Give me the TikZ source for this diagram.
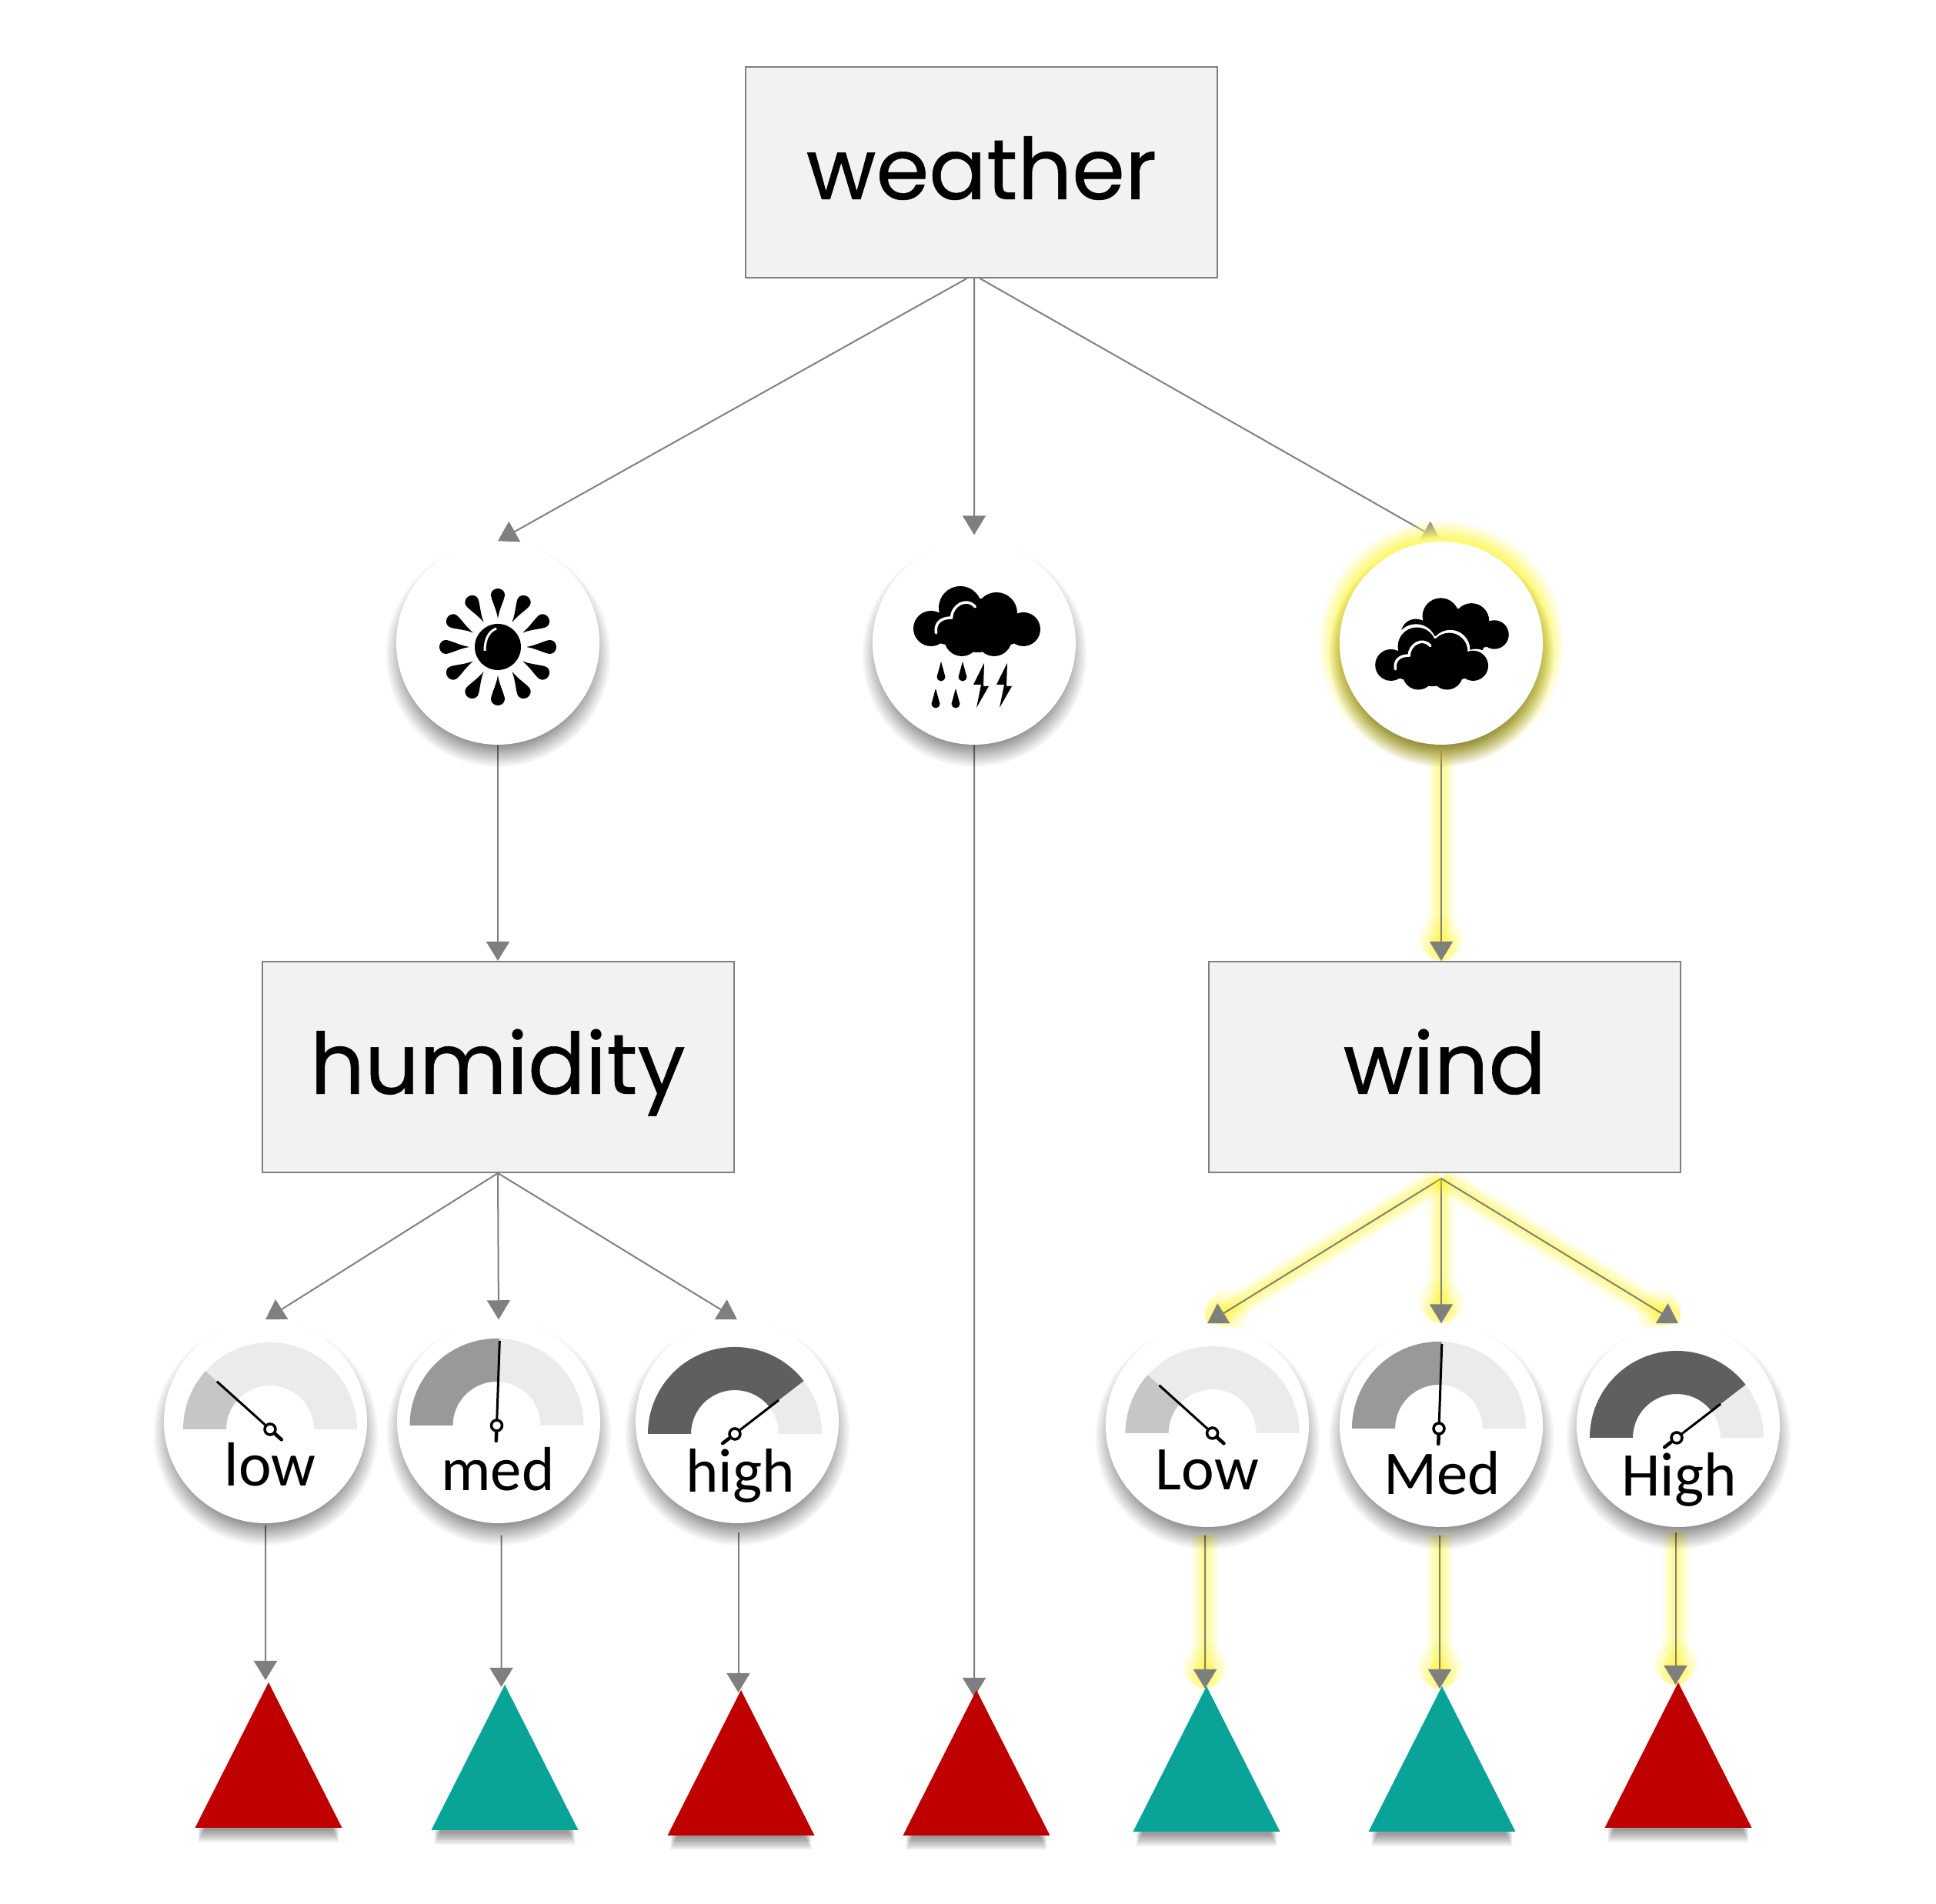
\documentclass[tikz,border=0pt]{standalone}
\usepackage{fontspec}
\newfontfamily\boxfont[FakeBold=.5]{Poppins}
\newfontfamily\dialfont{Carlito}
\usetikzlibrary{arrows.meta,shapes.geometric,shadows,fadings}
\pgfdeclarelayer{links}
\pgfsetlayers{links,main}
\pgfdeclareradialshading{softdiscshade}{\pgfpointorigin}{color(0bp)=(pgftransparent!0); color(18bp)=(pgftransparent!0); color(25bp)=(pgftransparent!100); color(50bp)=(pgftransparent!100)}
\pgfdeclarefading{softdisc}{\pgfuseshading{softdiscshade}}
\definecolor{boxgray}{HTML}{F2F2F2}
\definecolor{linegray}{HTML}{7F7F7F}
\definecolor{leafred}{HTML}{BE0000}
\definecolor{leafteal}{HTML}{09A397}
\definecolor{restgray}{HTML}{EBEBEB}
\definecolor{lowgray}{HTML}{C6C6C6}
\definecolor{medgray}{HTML}{999999}
\definecolor{highgray}{HTML}{5F5F5F}
\definecolor{glowyellow}{HTML}{FFF200}
\tikzset{
softshadow/.style={general shadow={shadow scale=1.11,shadow yshift=-.13cm,fill=black,opacity=.6,path fading=softdisc}},
boxnode/.style={draw=linegray,line width=.02cm,fill=boxgray,minimum width=6.13cm,minimum height=2.74cm,inner sep=0,font=\boxfont\fontsize{31.5}{38}\selectfont,text height=.8cm,text depth=.1cm},
roundnode/.style={circle,fill=white,minimum size=2.64cm,inner sep=0,softshadow},
glownode/.style={circle,fill=glowyellow!55!white,minimum size=3.2cm,inner sep=0,path fading=circle with fuzzy edge 15 percent},
dialtext/.style={anchor=base,inner sep=0,font=\dialfont\fontsize{23}{27}\selectfont},
leafshade/.style={general shadow={shadow scale=.96,shadow yshift=#1,fill=black,opacity=.08}},
leafnode/.style={isosceles triangle,isosceles triangle stretches,shape border rotate=90,minimum width=1.91cm,minimum height=1.89cm,inner sep=0,outer sep=0,anchor=apex,leafshade=-.23cm,leafshade=-.20cm,leafshade=-.17cm,leafshade=-.14cm,leafshade=-.11cm,leafshade=-.08cm},
link/.style={draw=linegray,line width=.02cm,-{Triangle[length=.25cm,width=.3cm]}},
glowlink/.style={link,
preaction={draw=glowyellow,opacity=.09,line width=.34cm,-{Circle[length=.58cm]}},
preaction={draw=glowyellow,opacity=.11,line width=.26cm,-{Circle[length=.5cm]}},
preaction={draw=glowyellow,opacity=.13,line width=.18cm,-{Circle[length=.42cm]}},
preaction={draw=glowyellow,opacity=.15,line width=.1cm,-{Circle[length=.34cm]}}},
pics/dial/.style n args={3}{code={
\fill[restgray] (180:1.13) arc (180:0:1.13) -- (0:.57) arc (0:180:.57) -- cycle;
\fill[#1] (180:1.13) arc (180:#2:1.13) -- (#2:.57) arc (#2:180:.57) -- cycle;
\draw[black,line width=.03cm] (0,0) -- (#2:#3);
\draw[black,line width=.045cm,line cap=round] (#2+180:.07) -- (#2+180:.2);
\draw[black,line width=.035cm,fill=white] (0,0) circle (.07);
}},
pics/cloudicon/.style={code={
\fill[#1] (-.225,.18) circle (.28) (.245,.11) circle (.27) (-.605,-.09) circle (.23) (.595,-.10) circle (.22) (-.205,-.22) circle (.23) (.215,-.22) circle (.23) (0,-.05) circle (.35) (-.4,-.1) circle (.2) (.4,-.1) circle (.2);
}},
pics/cloudshine/.style={code={
\draw[white,line width=.035cm,line cap=round] (-.54,-.15) .. controls (-.56,-.02) and (-.48,.05) .. (-.34,.05) .. controls (-.34,.2) and (-.15,.33) .. (-.03,.19);
}},
pics/raindrop/.style={code={
\fill (0,0) -- (.055,-.2) arc (0:-180:.055) -- cycle;
}},
pics/bolt/.style={code={
\fill (0,0) -- (-.14,-.28) -- (-.04,-.28) -- (-.1,-.58) -- (.06,-.30) -- (-.01,-.30) -- cycle;
}}
}
\newcommand{\sunray}[1]{\fill[rotate=#1] (.37,0) .. controls (.5,.02) and (.62,.09) .. (.68,.09) .. controls (.73,.09) and (.76,.04) .. (.76,0) .. controls (.76,-.04) and (.73,-.09) .. (.68,-.09) .. controls (.62,-.09) and (.5,-.02) .. (.37,0);}

\begin{document}
\begin{tikzpicture}
\useasboundingbox (0,0) rectangle (25.16,24.75);

\node[boxnode] (weather) at (12.755,22.51) {weather};
\node[boxnode] (humidity) at (6.47,10.88) {humidity};
\node[boxnode] (wind) at (18.775,10.88) {wind};

\node[glownode] (cloudglow) at (18.73,16.39) {};
\node[roundnode] (sun) at (6.47,16.39) {};
\node[roundnode] (storm) at (12.66,16.39) {};
\node[roundnode] (cloud) at (18.73,16.39) {};

\node[roundnode] (low) at (3.45,6.27) {};
\node[roundnode] (med) at (6.48,6.27) {};
\node[roundnode] (high) at (9.58,6.27) {};
\node[roundnode] (Low) at (15.69,6.22) {};
\node[roundnode] (Med) at (18.73,6.22) {};
\node[roundnode] (High) at (21.81,6.22) {};

\begin{scope}[shift={(6.47,16.34)}]
\fill (0,0) circle (.3);
\draw[white,line width=.03cm] (-.17,-.05) .. controls (-.17,.1) and (-.12,.2) .. (-.02,.24);
\sunray{0} \sunray{30} \sunray{60} \sunray{90} \sunray{120} \sunray{150}
\sunray{180} \sunray{210} \sunray{240} \sunray{270} \sunray{300} \sunray{330}
\end{scope}

\pic at (12.705,16.67) {cloudicon=black};
\pic at (12.705,16.67) {cloudshine};
\pic at (12.23,16.15) {raindrop};
\pic at (12.51,16.15) {raindrop};
\pic at (12.16,15.80) {raindrop};
\pic at (12.42,15.80) {raindrop};
\pic at (12.79,16.13) {bolt};
\pic at (13.09,16.13) {bolt};

\pic[scale=.85] at (18.915,16.585) {cloudicon=black};
\pic[scale=.95] at (18.615,16.20) {cloudicon=white};
\pic[scale=.89] at (18.615,16.185) {cloudicon=black};
\pic[scale=.89] at (18.615,16.185) {cloudshine};

\pic at (3.51,6.17) {dial={lowgray}{138}{.93}};
\pic at (6.455,6.22) {dial={medgray}{88}{1.1}};
\pic at (9.55,6.11) {dial={highgray}{37.6}{.72}};
\pic at (15.756,6.12) {dial={lowgray}{138}{.93}};
\pic at (18.70,6.18) {dial={medgray}{88}{1.1}};
\pic at (21.79,6.06) {dial={highgray}{37.6}{.72}};

\node[dialtext] (lowtext) at (3.51,5.43) {low};
\node[dialtext] (medtext) at (6.47,5.37) {med};
\node[dialtext] (hightext) at (9.62,5.35) {high};
\node[dialtext] (Lowtext) at (15.69,5.38) {Low};
\node[dialtext] (Medtext) at (18.74,5.32) {Med};
\node[dialtext] (Hightext) at (21.82,5.30) {High};

\node[leafnode,fill=leafred] (leafa) at (3.49,2.88) {};
\node[leafnode,fill=leafteal] (leafb) at (6.56,2.85) {};
\node[leafnode,fill=leafred] (leafc) at (9.63,2.78) {};
\node[leafnode,fill=leafred] (leafd) at (12.69,2.78) {};
\node[leafnode,fill=leafteal] (leafe) at (15.68,2.83) {};
\node[leafnode,fill=leafteal] (leaff) at (18.74,2.83) {};
\node[leafnode,fill=leafred] (leafg) at (21.81,2.88) {};

\begin{pgfonlayer}{links}
\draw[link] ([xshift=-.19cm]weather.south) -- (sun.north);
\draw[link] ([xshift=-.095cm]weather.south) -- ([yshift=.08cm]storm.north);
\draw[link] ([xshift=-.02cm]weather.south) -- (cloud.north);
\draw[link] (sun.south) -- (humidity.north);
\draw[link] (storm.south) -- ([yshift=-.09cm,xshift=-.03cm]leafd.apex);
\draw[glowlink] (cloud.south) -- ([xshift=-.045cm]wind.north);
\draw[link] (humidity.south) -- (low.north);
\draw[link] (humidity.south) -- (med.north);
\draw[link] (humidity.south) -- (high.north);
\draw[glowlink] ([xshift=-.045cm,yshift=-.07cm]wind.south) -- (Low.north);
\draw[glowlink] ([xshift=-.045cm,yshift=-.07cm]wind.south) -- (Med.north);
\draw[glowlink] ([xshift=-.045cm,yshift=-.07cm]wind.south) -- (High.north);
\draw[link] ([yshift=-.02cm]low.south) -- ([xshift=-.04cm,yshift=.03cm]leafa.apex);
\draw[link] ([xshift=.035cm,yshift=-.15cm]med.south) -- ([xshift=-.045cm,yshift=-.03cm]leafb.apex);
\draw[link] ([xshift=.015cm,yshift=-.11cm]high.south) -- ([xshift=-.035cm,yshift=-.03cm]leafc.apex);
\draw[glowlink] ([xshift=-.03cm,yshift=-.10cm]Low.south) -- ([xshift=-.02cm,yshift=-.03cm]leafe.apex);
\draw[glowlink] ([xshift=-.02cm,yshift=-.10cm]Med.south) -- ([xshift=-.03cm,yshift=-.03cm]leaff.apex);
\draw[glowlink] ([xshift=-.035cm,yshift=-.06cm]High.south) -- ([xshift=-.035cm,yshift=-.03cm]leafg.apex);
\end{pgfonlayer}
\end{tikzpicture}
\end{document}
